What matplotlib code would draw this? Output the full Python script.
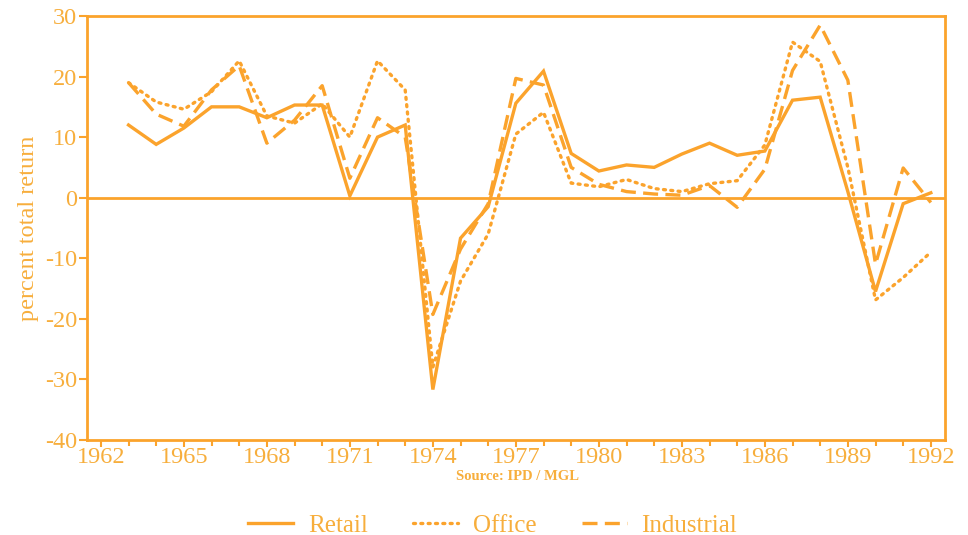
import matplotlib
matplotlib.use("Agg")
import matplotlib.pyplot as plt
from matplotlib.ticker import MultipleLocator

years = list(range(1963, 1993))

retail = [12, 8.8, 11.5, 15, 15, 13.2, 15.3, 15.3, 0.3, 10, 12,
          -31.7, -6.7, -1.5, 15.6, 20.9, 7.3, 4.4, 5.4, 5, 7.2, 9,
          7, 7.7, 16.1, 16.6, 1, -15.5, -1, 0.8]
office = [19, 15.8, 14.6, 17.5, 22.6, 13.5, 12.3, 15.5, 10, 22.6, 17.8,
          -28, -13.8, -6, 10.5, 14.1, 2.4, 1.8, 3, 1.5, 1, 2.3,
          2.8, 8.7, 25.7, 22.5, 5, -16.9, -13.2, -9]
industrial = [19, 13.8, 11.8, 17.8, 21.8, 9, 12.8, 18.5, 3.2, 13.2, 10,
              -19.3, -8.5, -1, 19.7, 18.6, 5, 2.2, 1, 0.6, 0.4, 2,
              -1.6, 4.7, 21, 28.5, 19.4, -11, 4.9, -0.8]

year_labels = list(range(1962, 1993, 3))
y_ticks = list(range(-40, 31, 10))

line_color = "#FBA32C"
text_color = "#F7AE3C"

plt.rcParams["font.family"] = ["Liberation Serif", "DejaVu Serif"]
plt.rcParams["axes.unicode_minus"] = False

fig = plt.figure(figsize=(9.68, 5.35), dpi=100)
ax = fig.add_axes([0.0899, 0.178, 0.886, 0.792])

ax.plot(years, retail, color=line_color, lw=2.4, ls="-", label="Retail",
        solid_joinstyle="miter")
ax.plot(years, office, color=line_color, lw=2.4, ls=(0, (0.6, 1.6)),
        dash_capstyle="round", label="Office")
ax.plot(years, industrial, color=line_color, lw=2.4, ls=(0, (4.5, 2.2)),
        label="Industrial")

ax.axhline(0, color=line_color, lw=2)

ax.set_xlim(1961.5, 1992.5)
ax.set_ylim(-40, 30)
ax.set_xticks(year_labels)
ax.xaxis.set_minor_locator(MultipleLocator(1))
ax.set_yticks(y_ticks)

for sp in ax.spines.values():
    sp.set_color(line_color)
    sp.set_linewidth(2)

ax.tick_params(axis="both", colors=line_color, labelcolor=text_color,
               labelsize=17.5, width=1.5, direction="out")
ax.tick_params(axis="y", length=6, pad=1)
ax.tick_params(axis="x", which="major", length=5, pad=0)
ax.tick_params(axis="x", which="minor", length=4, width=1.5,
               color=line_color, direction="out")

ax.set_ylabel("percent total return", color=text_color, fontsize=17.5,
              labelpad=4)

fig.text(0.535, 0.109, "Source: IPD / MGL", color=text_color, fontsize=10.5,
         fontweight="bold", ha="center", va="center")

leg = fig.legend(loc="center", bbox_to_anchor=(0.509, 0.018), ncol=3,
                 frameon=False, fontsize=18, handlelength=1.8,
                 columnspacing=1.8, handletextpad=0.6)
for t in leg.get_texts():
    t.set_color(text_color)

fig.savefig("out.png", dpi=100, facecolor="white")
